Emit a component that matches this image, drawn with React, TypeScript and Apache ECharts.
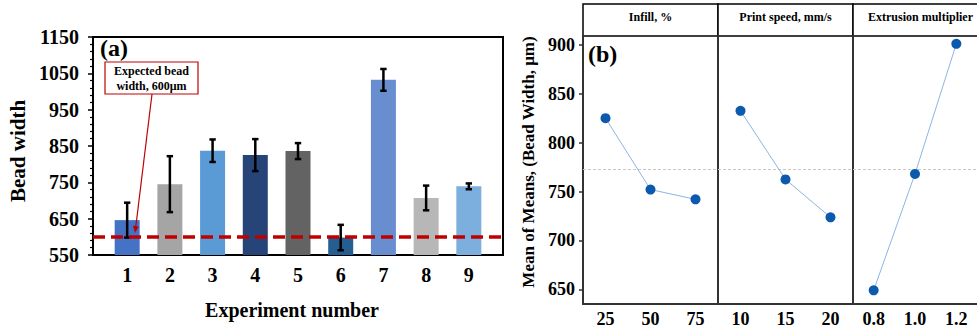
import React, { useEffect, useRef } from "react";
import * as echarts from "echarts";

// ---- Data (a) ----
const experiments = [1, 2, 3, 4, 5, 6, 7, 8, 9];
const beadWidth = [646, 745, 837, 825, 836, 598, 1032, 707, 739];
const beadErr = [48, 77, 31, 44, 22, 35, 30, 34, 8];
const expectedWidth = 600;
const leftYTicks = [550, 650, 750, 850, 950, 1050, 1150];

// ---- Data (b) ----
const infillLevels = ["25", "50", "75"];
const infillMeans = [825, 752, 742];
const speedLevels = ["10", "15", "20"];
const speedMeans = [832.5, 762.4, 723.6];
const extrusionLevels = ["0.8", "1.0", "1.2"];
const extrusionMeans = [649, 768, 901];
const rightYTicks = [650, 700, 750, 800, 850, 900];
const panelTitles = ["Infill, %", "Print speed, mm/s", "Extrusion multiplier"];

const barColors = ["#4472C4", "#A5A5A5", "#5B9BD5", "#264478", "#636363", "#255E91", "#698ED0", "#B7B7B7", "#7CAFDD"];

const FONT = "Liberation Serif";
const grandMean = infillMeans.reduce((a, b) => a + b, 0) / infillMeans.length;

export default function App() {
  const ref = useRef<HTMLDivElement>(null);
  useEffect(() => {
    if (!ref.current) return;
    const chart = echarts.init(ref.current, undefined, { renderer: "svg" });

    const panels = [
      { levels: infillLevels, means: infillMeans },
      { levels: speedLevels, means: speedMeans },
      { levels: extrusionLevels, means: extrusionMeans },
    ];
    const panelLeft = [583, 718, 853];
    const panelW = 135;

    const grids: any[] = [
      { left: 93, top: 37, width: 410, height: 218 },
      ...panelLeft.map((l) => ({ left: l, top: 36, width: panelW, height: 270.7 })),
    ];

    const xAxes: any[] = [
      {
        type: "value",
        gridIndex: 0,
        min: 0.2,
        max: 9.8,
        axisLine: { show: true, lineStyle: { color: "#000", width: 2 } },
        axisTick: { show: false },
        splitLine: { show: false },
        axisLabel: {
          customValues: experiments,
          formatter: (v: number) => String(v),
          fontFamily: FONT,
          fontWeight: "bold",
          fontSize: 20,
          color: "#000",
          margin: 10,
        },
      },
      ...panels.map((p, i) => ({
        type: "category",
        gridIndex: i + 1,
        data: p.levels,
        boundaryGap: true,
        axisLine: { show: true, lineStyle: { color: "#333", width: 2 } },
        axisTick: { show: false },
        axisLabel: {
          fontFamily: FONT,
          fontWeight: "bold",
          fontSize: 18,
          color: "#000",
          margin: 6,
        },
      })),
    ];

    const yAxes: any[] = [
      {
        type: "value",
        gridIndex: 0,
        min: leftYTicks[0],
        max: leftYTicks[leftYTicks.length - 1],
        interval: 100,
        axisLine: { show: true, lineStyle: { color: "#000", width: 2 } },
        axisTick: { show: true, length: 5, lineStyle: { color: "#000", width: 1.5 } },
        minorTick: { show: true, splitNumber: 5, length: 3, lineStyle: { color: "#000", width: 1.2 } },
        splitLine: { show: false },
        axisLabel: {
          formatter: (v: number) => String(v),
          fontFamily: FONT,
          fontWeight: "bold",
          fontSize: 20,
          color: "#000",
          margin: 14,
        },
      },
      ...panels.map((p, i) => ({
        type: "value",
        gridIndex: i + 1,
        min: 635,
        max: 909,
        axisLine: { show: true, lineStyle: { color: "#333", width: 2 } },
        axisTick: i === 0 ? { show: true, length: 4, customValues: rightYTicks, lineStyle: { color: "#333", width: 1.5 } } : { show: false },
        splitLine: { show: false },
        axisLabel:
          i === 0
            ? {
                show: true,
                customValues: rightYTicks,
                formatter: (v: number) => String(v),
                fontFamily: FONT,
                fontWeight: "bold",
                fontSize: 18,
                color: "#000",
                margin: 8,
              }
            : { show: false },
      })),
    ];

    const series: any[] = [
      {
        type: "bar",
        xAxisIndex: 0,
        yAxisIndex: 0,
        barWidth: 25,
        data: experiments.map((e, i) => ({ value: [e, beadWidth[i]], itemStyle: { color: barColors[i] } })),
        markLine: {
          silent: true,
          symbol: ["none", "none"],
          label: { show: false },
          lineStyle: { color: "#C00000", width: 3.5, type: [12, 6] },
          data: [{ yAxis: expectedWidth }],
          z: 10,
        },
      },
      {
        type: "custom",
        xAxisIndex: 0,
        yAxisIndex: 0,
        z: 5,
        data: experiments.map((e, i) => [e, beadWidth[i] - beadErr[i], beadWidth[i] + beadErr[i]]),
        encode: { x: 0, y: [1, 2] },
        renderItem: (params: any, api: any) => {
          const x = api.value(0);
          const lo = api.coord([x, api.value(1)]);
          const hi = api.coord([x, api.value(2)]);
          const c = 3.2;
          const style = { stroke: "#000", lineWidth: 2.5 };
          return {
            type: "group",
            children: [
              { type: "line", shape: { x1: lo[0], y1: lo[1], x2: hi[0], y2: hi[1] }, style },
              { type: "line", shape: { x1: lo[0] - c, y1: lo[1], x2: lo[0] + c, y2: lo[1] }, style },
              { type: "line", shape: { x1: hi[0] - c, y1: hi[1], x2: hi[0] + c, y2: hi[1] }, style },
            ],
          };
        },
      },
      ...panels.map((p, i) => ({
        type: "line",
        xAxisIndex: i + 1,
        yAxisIndex: i + 1,
        data: p.means,
        symbol: "circle",
        symbolSize: 10,
        itemStyle: { color: "#0B5AAE" },
        lineStyle: { color: "#8DB4E2", width: 1 },
        z: 5,
        markLine: {
          silent: true,
          symbol: ["none", "none"],
          label: { show: false },
          lineStyle: { color: "#C8C8C8", width: 1, type: [3, 2] },
          data: [{ yAxis: grandMean }],
          z: 1,
        },
      })),
    ];

    const graphic: any[] = [
      // frame of (a)
      {
        type: "rect",
        shape: { x: 93, y: 37, width: 410, height: 218 },
        style: { fill: "none", stroke: "#000", lineWidth: 2 },
        z: 0,
        silent: true,
      },
      {
        type: "text",
        x: 100,
        y: 36,
        style: { text: "(a)", fontFamily: FONT, fontWeight: "bold", fontSize: 24, fill: "#000" },
      },
      {
        type: "text",
        x: 18,
        y: 151,
        rotation: Math.PI / 2,
        style: {
          text: "Bead width",
          fontFamily: FONT,
          fontWeight: "bold",
          fontSize: 21,
          fill: "#000",
          align: "center",
          verticalAlign: "middle",
        },
      },
      {
        type: "text",
        x: 292,
        y: 310,
        style: {
          text: "Experiment number",
          fontFamily: FONT,
          fontWeight: "bold",
          fontSize: 20,
          fill: "#000",
          align: "center",
          verticalAlign: "middle",
        },
      },
      // annotation
      {
        type: "line",
        shape: { x1: 152, y1: 94, x2: 135.5, y2: 229 },
        style: { stroke: "#C00000", lineWidth: 1.2 },
        z: 20,
      },
      {
        type: "polygon",
        shape: { points: [[135, 233], [138.8, 226.4], [132.9, 225.7]] },
        style: { fill: "#C00000" },
        z: 20,
      },
      {
        type: "rect",
        shape: { x: 105, y: 62, width: 93, height: 32 },
        style: { fill: "#fff", stroke: "#C00000", lineWidth: 1.2 },
        z: 20,
      },
      {
        type: "text",
        x: 151.5,
        y: 78,
        z: 21,
        style: {
          text: "Expected bead\nwidth, 600μm",
          fontFamily: FONT,
          fontWeight: "bold",
          fontSize: 12,
          lineHeight: 15,
          fill: "#000",
          align: "center",
          verticalAlign: "middle",
        },
      },
      // (b)
      {
        type: "text",
        x: 588,
        y: 42,
        style: { text: "(b)", fontFamily: FONT, fontWeight: "bold", fontSize: 24, fill: "#000" },
      },
      {
        type: "text",
        x: 528,
        y: 162,
        rotation: Math.PI / 2,
        style: {
          text: "Mean of Means, (Bead Width, μm)",
          fontFamily: FONT,
          fontWeight: "bold",
          fontSize: 17,
          fill: "#000",
          align: "center",
          verticalAlign: "middle",
        },
      },
      ...panelTitles.flatMap((t, i) => [
        {
          type: "rect",
          shape: { x: panelLeft[i], y: 4, width: panelW, height: 32 },
          style: { fill: "#fff", stroke: "#000", lineWidth: 1.5 },
        },
        {
          type: "text",
          x: panelLeft[i] + panelW / 2,
          y: 17,
          style: {
            text: t,
            fontFamily: FONT,
            fontWeight: "bold",
            fontSize: 12,
            fill: "#000",
            align: "center",
            verticalAlign: "middle",
          },
        },
      ]),
    ];

    chart.setOption({
      animation: false,
      backgroundColor: "#fff",
      grid: grids,
      xAxis: xAxes,
      yAxis: yAxes,
      series,
      graphic,
    });
    return () => chart.dispose();
  }, []);
  return <div ref={ref} style={{ position: "fixed", left: 0, top: 0, width: 977, height: 328 }} />;
}
